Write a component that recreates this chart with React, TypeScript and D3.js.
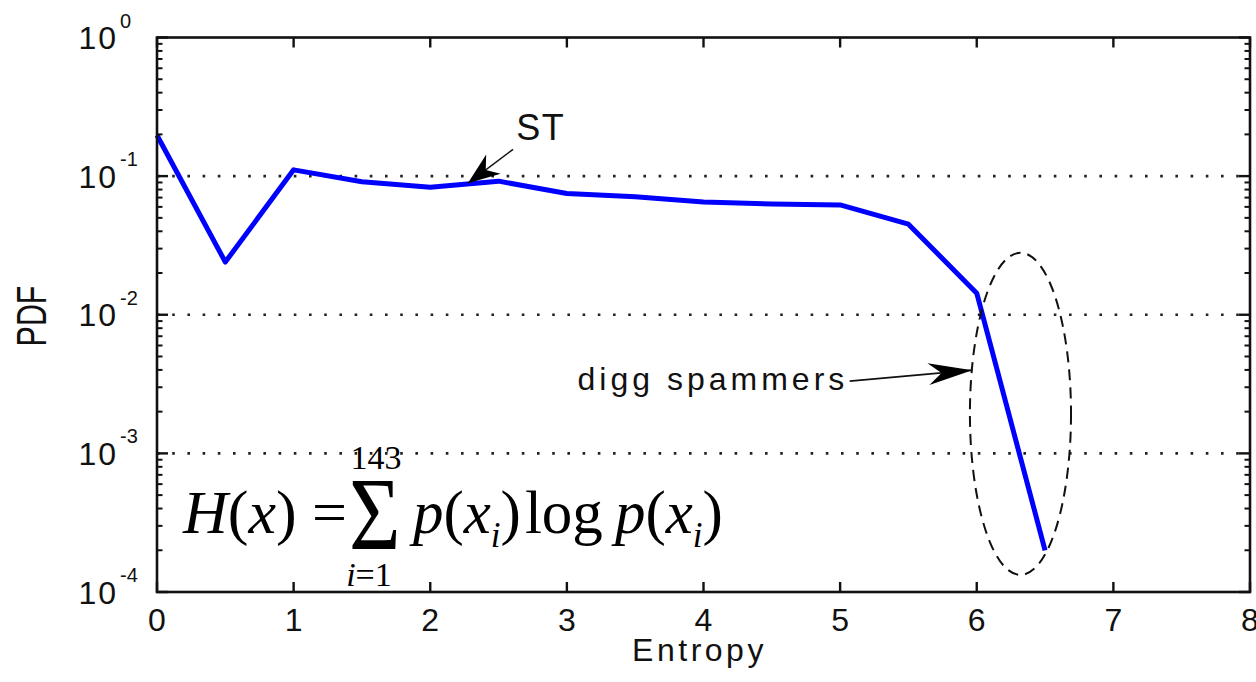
import React from "react";
import * as d3 from "d3";

// ---- data ----
const entropy = [0, 0.5, 1, 1.5, 2, 2.5, 3, 3.5, 4, 4.5, 5, 5.5, 6, 6.5];
const pdf = [0.197, 0.024, 0.111, 0.091, 0.083, 0.092, 0.075, 0.071, 0.065, 0.063, 0.062, 0.045, 0.0143, 0.0002];
const xTicks = [0, 1, 2, 3, 4, 5, 6, 7, 8];
const yDecades = [0, -1, -2, -3, -4];
const gridDecades = [-1, -2, -3];

// annotation anchors in data coordinates
const stArrow = { tail: [2.606, 0.156], tip: [2.275, 0.0887], label: [2.63, 0.181] };
const diggArrow = { tail: [5.07, 0.00332], tip: [5.967, 0.00398], labelEnd: [5.06, 0.00286] };
const ellipseBox = { x0: 5.95, x1: 6.69, yTop: 0.028, yBottom: 0.000133 };
const formulaAnchor = [0.19, 0.000266];

const W = 1256;
const H = 682;
const left = 157, right = 1250, top = 37.5, bottom = 592;

const x = d3.scaleLinear().domain([0, 8]).range([left, right]);
const y = d3.scaleLog().domain([1e-4, 1]).range([bottom, top]);

const sans = "'Liberation Sans', Arial, Helvetica, sans-serif";
const serif = "'Liberation Serif', 'Times New Roman', serif";

function arrowHead(tip: number[], tail: number[], L: number, w: number) {
  const dx = tip[0] - tail[0], dy = tip[1] - tail[1];
  const len = Math.hypot(dx, dy);
  const ux = dx / len, uy = dy / len;
  const px = -uy, py = ux;
  const bx = tip[0] - ux * L, by = tip[1] - uy * L;
  const nx = tip[0] - ux * L * 0.7, ny = tip[1] - uy * L * 0.7;
  return `M${tip[0]},${tip[1]} L${bx + px * w},${by + py * w} L${nx},${ny} L${bx - px * w},${by - py * w} Z`;
}

export default function App() {
  const line = d3.line<number>().x((_, i) => x(entropy[i])).y((d) => y(d));
  const minor: number[] = [];
  for (let e = -4; e < 0; e++) for (let k = 2; k <= 9; k++) minor.push(k * Math.pow(10, e));

  const stTip = [x(stArrow.tip[0]), y(stArrow.tip[1])];
  const stTail = [x(stArrow.tail[0]), y(stArrow.tail[1])];
  const dTip = [x(diggArrow.tip[0]), y(diggArrow.tip[1])];
  const dTail = [x(diggArrow.tail[0]), y(diggArrow.tail[1])];
  const ex0 = x(ellipseBox.x0), ex1 = x(ellipseBox.x1);
  const ey0 = y(ellipseBox.yTop), ey1 = y(ellipseBox.yBottom);
  const fx = x(formulaAnchor[0]);
  const fy = y(formulaAnchor[1]);

  return (
    <svg width={W} height={H} style={{ position: "absolute", left: 0, top: 0, background: "#fff" }}>
      {/* grid */}
      {gridDecades.map((e) => (
        <line key={e} x1={left} x2={right} y1={y(Math.pow(10, e))} y2={y(Math.pow(10, e))}
          stroke="#222" strokeWidth={2.6} strokeDasharray="2.6 12.6" />
      ))}
      {/* data line */}
      <path d={line(pdf) || ""} fill="none" stroke="#0000ff" strokeWidth={5} strokeLinejoin="round" />
      {/* frame */}
      <rect x={left} y={top} width={right - left} height={bottom - top} fill="none" stroke="#111" strokeWidth={2.6} />
      {/* x ticks */}
      {xTicks.map((t) => (
        <g key={t}>
          <line x1={x(t)} x2={x(t)} y1={bottom} y2={bottom - 10} stroke="#111" strokeWidth={2.4} />
          <line x1={x(t)} x2={x(t)} y1={top} y2={top + 10} stroke="#111" strokeWidth={2.4} />
          <text x={x(t)} y={631} textAnchor="middle" fontFamily={sans} fontSize={32} fill="#111">{t}</text>
        </g>
      ))}
      {/* y ticks */}
      {yDecades.map((e) => {
        const yy = y(Math.pow(10, e));
        return (
          <g key={e}>
            <line x1={left} x2={left + 11} y1={yy} y2={yy} stroke="#111" strokeWidth={2.4} />
            <line x1={right} x2={right - 11} y1={yy} y2={yy} stroke="#111" strokeWidth={2.4} />
            <text x={118} y={yy + 11.5} textAnchor="end" fontFamily={sans} fontSize={32} letterSpacing={2} fill="#111">10</text>
            <text x={120} y={yy - 10} textAnchor="start" fontFamily={sans} fontSize={20} fill="#111">{e === 0 ? "0" : `-${-e}`}</text>
          </g>
        );
      })}
      {minor.map((m, i) => (
        <g key={i}>
          <line x1={left} x2={left + 5.5} y1={y(m)} y2={y(m)} stroke="#111" strokeWidth={2} />
          <line x1={right} x2={right - 5.5} y1={y(m)} y2={y(m)} stroke="#111" strokeWidth={2} />
        </g>
      ))}
      {/* axis labels */}
      <text x={(left + right) / 2 - 4} y={661} textAnchor="middle" fontFamily={sans} fontSize={32} letterSpacing={3.5} fill="#111">Entropy</text>
      <text transform="translate(46,316) rotate(-90) scale(0.95,1.3)" textAnchor="middle" fontFamily={sans} fontSize={32} fill="#111">PDF</text>

      {/* ST annotation */}
      <line x1={stTail[0]} y1={stTail[1]} x2={stTip[0]} y2={stTip[1]} stroke="#111" strokeWidth={1.5} />
      <path d={arrowHead(stTip, stTail, 32, 12)} fill="#000" />
      <text x={x(stArrow.label[0])} y={y(stArrow.label[1])} fontFamily={sans} fontSize={36} letterSpacing={1.5} fill="#111">ST</text>

      {/* digg spammers annotation */}
      <line x1={dTail[0]} y1={dTail[1]} x2={dTip[0]} y2={dTip[1]} stroke="#111" strokeWidth={1.8} />
      <path d={arrowHead(dTip, dTail, 44, 11)} fill="#000" />
      <text x={x(diggArrow.labelEnd[0])} y={y(diggArrow.labelEnd[1])} textAnchor="end" fontFamily={sans} fontSize={32} letterSpacing={4} fill="#111">digg spammers</text>
      <ellipse cx={(ex0 + ex1) / 2} cy={(ey0 + ey1) / 2} rx={(ex1 - ex0) / 2} ry={(ey1 - ey0) / 2}
        fill="none" stroke="#111" strokeWidth={2} strokeDasharray="11 7" />

      {/* formula */}
      <g fontFamily={serif} fill="#000">
        <text x={fx} y={fy} fontSize={62}>
          <tspan fontStyle="italic">H</tspan>
          <tspan>(</tspan>
          <tspan fontStyle="italic">x</tspan>
          <tspan>) =</tspan>
        </text>
        <text transform={`translate(${fx + 166},${fy + 16}) scale(0.82,0.97)`} fontSize={108}>Σ</text>
        <text x={fx + 193} y={fy - 64} textAnchor="middle" fontSize={34}>143</text>
        <text x={fx + 186} y={fy + 53} textAnchor="middle" fontSize={34}>
          <tspan fontStyle="italic">i</tspan>=1
        </text>
        <text x={fx + 230} y={fy} fontSize={61}>
          <tspan fontStyle="italic">p</tspan>
          <tspan>(</tspan>
          <tspan fontStyle="italic">x</tspan>
          <tspan fontStyle="italic" fontSize={35} dy={14}>i</tspan>
          <tspan dy={-14}>)</tspan>
          <tspan dx={4}>log</tspan>
          <tspan dx={12} fontStyle="italic">p</tspan>
          <tspan>(</tspan>
          <tspan fontStyle="italic">x</tspan>
          <tspan fontStyle="italic" fontSize={35} dy={14}>i</tspan>
          <tspan dy={-14}>)</tspan>
        </text>
      </g>
    </svg>
  );
}
